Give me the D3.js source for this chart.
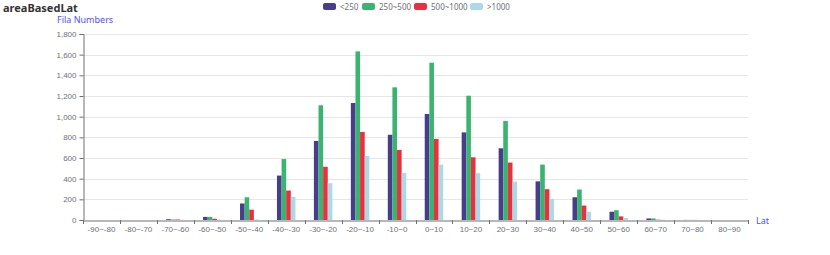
<!DOCTYPE html>
<html><head><meta charset="utf-8">
<script src="https://cdn.jsdelivr.net/npm/d3@7/dist/d3.min.js"></script>
<style>body{margin:0;background:#fff}svg{display:block;font-family:"Noto Sans","DejaVu Sans",sans-serif}</style>
</head><body><svg id="c" width="830" height="255"></svg>
<script>
const categories = ["-90~-80","-80~-70","-70~-60","-60~-50","-50~-40","-40~-30","-30~-20","-20~-10","-10~0","0~10","10~20","20~30","30~40","40~50","50~60","60~70","70~80","80~90"];
const seriesNames = ["<250","250~500","500~1000",">1000"];
const lt250 =   [0,0,8,30,160,430,765,1132,825,1026,848,694,374,220,80,15,1,0];
const s250_500 =[0,0,5,30,220,590,1110,1632,1284,1522,1203,958,536,295,95,15,1,0];
const s500_1000=[0,0,5,12,100,285,515,852,678,784,607,556,298,140,35,3,1,0];
const gt1000 =  [0,0,2,5,5,225,356,620,455,536,453,372,205,80,20,3,1,0];
const yTicks = [0,200,400,600,800,1000,1200,1400,1600,1800];
const colors = ["#483d8b","#3cb371","#e6323e","#add8e6"];
const series = [lt250,s250_500,s500_1000,gt1000];

const svg = d3.select("#c");
const L=83,R=748,T=34,B=220;
const x = d3.scaleBand().domain(categories).range([L,R]);
const x1 = d3.scaleBand().domain(d3.range(4)).range([0,x.bandwidth()]).paddingOuter(2);
const y = d3.scaleLinear().domain([0,1800]).range([B,T]);
const fmt = d3.format(",");

svg.append("g").selectAll("line").data(yTicks.slice(1)).join("line")
  .attr("x1",L).attr("x2",R).attr("y1",d=>Math.round(y(d))+0.5).attr("y2",d=>Math.round(y(d))+0.5)
  .attr("stroke","#e6e6e6");

series.forEach((s,i)=>{
  svg.append("g").selectAll("rect").data(s).join("rect")
    .attr("x",(d,j)=>x(categories[j])+x1(i))
    .attr("width",x1.bandwidth())
    .attr("y",d=>y(d)).attr("height",d=>B-y(d))
    .attr("fill",colors[i]);
});

const ya = svg.append("g").attr("transform",`translate(${L+0.5},0)`)
  .call(d3.axisLeft(y).tickValues(yTicks).tickFormat(fmt).tickSize(4).tickPadding(3));
ya.select(".domain").attr("stroke","#6e7079");
ya.selectAll(".tick line").attr("stroke","#6e7079");
ya.selectAll("text").attr("fill","#6e7079").style("font-size","8px");

const xa = svg.append("g").attr("transform",`translate(0,${B+0.5})`)
  .call(d3.axisBottom(x).tickSize(0).tickPadding(6));
xa.select(".domain").attr("stroke","#6e7079");
xa.selectAll("text").attr("fill","#6e7079").style("font-size","8px");
svg.append("g").selectAll("line").data(d3.range(categories.length+1)).join("line")
  .attr("x1",i=>Math.round(L+i*x.bandwidth())+0.5).attr("x2",i=>Math.round(L+i*x.bandwidth())+0.5)
  .attr("y1",B).attr("y2",B+4).attr("stroke","#6e7079");

svg.append("text").attr("x",57).attr("y",23).text("Fila Numbers").attr("fill","#4f4fff").style("font-size","9px");
svg.append("text").attr("x",756).attr("y",224).text("Lat").attr("fill","#4f4fff").style("font-size","9px");

svg.append("text").attr("x",3).attr("y",12).text("areaBasedLat").attr("fill","#333").style("font-size","11px").style("font-weight","bold");

const legX=[323,362,414,470];
seriesNames.forEach((n,i)=>{
  svg.append("rect").attr("x",legX[i]).attr("y",3).attr("width",13).attr("height",7).attr("rx",2).attr("fill",colors[i]);
  svg.append("text").attr("x",legX[i]+17).attr("y",9.5).text(n).attr("fill","#6e7079").style("font-size","8px");
});
</script></body></html>
